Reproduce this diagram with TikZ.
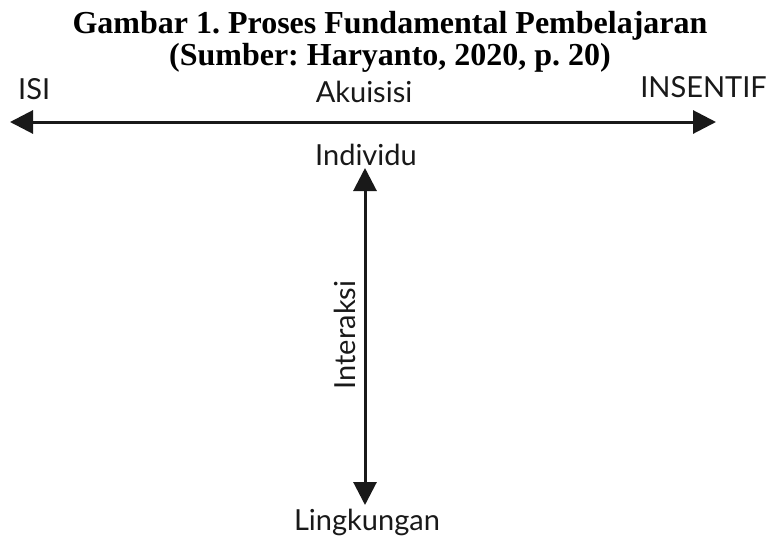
\documentclass[tikz,border=0pt]{standalone}
\usepackage{fontspec}
\setmainfont{Liberation Serif}
\newfontfamily\labelfont{Lato}
\usetikzlibrary{arrows.meta}
\frenchspacing
\tikzset{
  titletext/.style={inner sep=0pt, anchor=base, font=\fontsize{32}{36}\selectfont\bfseries},
  lbl/.style={inner sep=0pt, font=\labelfont\fontsize{29}{33}\selectfont, text=black!90},
  dbl/.style={line width=3pt, draw=black!90, {Triangle[length=23pt,width=23pt]}-{Triangle[length=23pt,width=23pt]}}
}
\begin{document}
\begin{tikzpicture}[x=1pt,y=-1pt]
\useasboundingbox (0,0) rectangle (771,536);
\node[titletext] (t1) at (390,33) {Gambar 1. Proses Fundamental Pembelajaran};
\node[titletext] (t2) at (390,65) {(Sumber: Haryanto, 2020, p. 20)};
\node[lbl, anchor=base west] (isi) at (18,99) {ISI};
\node[lbl, anchor=base] (aku) at (364,102) {Akuisisi};
\node[lbl, anchor=base east] (ins) at (767,97) {INSENTIF};
\node[lbl, anchor=base] (ind) at (366,165) {Individu};
\node[lbl, anchor=base] (lin) at (367,530) {Lingkungan};
\node[lbl, anchor=base, rotate=90] (int) at (355,335) {Interaksi};
\coordinate (hl) at (10,122);
\coordinate (hr) at (716,122);
\coordinate (vt) at (365,168);
\coordinate (vb) at (365,505);
\draw[dbl] (hl) -- (hr);
\draw[dbl] (vt) -- (vb);
\end{tikzpicture}
\end{document}
